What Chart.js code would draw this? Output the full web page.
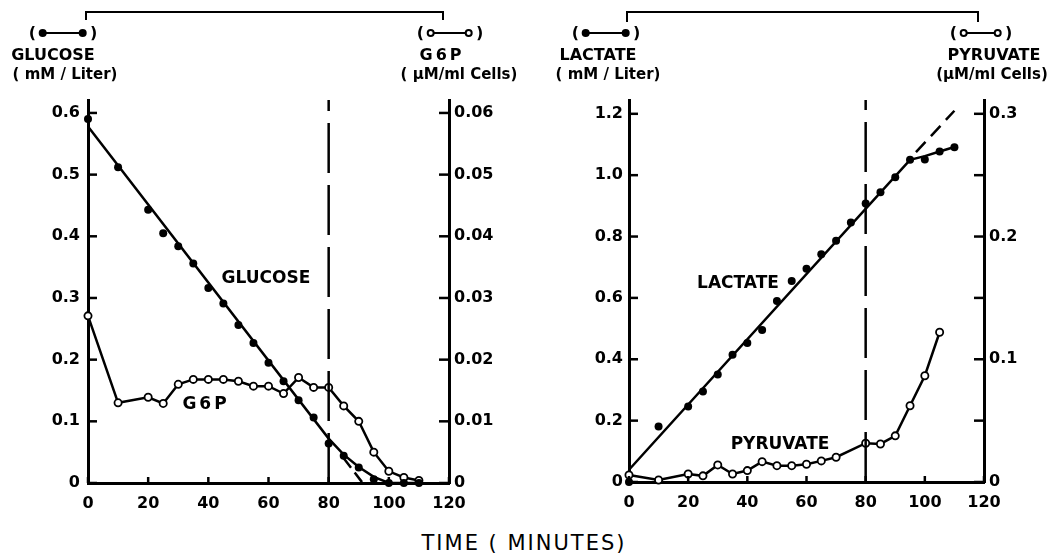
<!DOCTYPE html>
<html>
<head>
<meta charset="utf-8">
<script src="https://cdn.jsdelivr.net/npm/chart.js@4.4.0/dist/chart.umd.min.js"></script>
<style>
html,body{margin:0;padding:0;background:#fff;}
body{width:1059px;height:559px;position:relative;overflow:hidden;font-family:'DejaVu Sans',sans-serif;color:#000;}
.box{position:absolute;top:0;height:520px;}
.lbl{position:absolute;font-weight:bold;white-space:nowrap;transform:translate(-50%,-50%);line-height:1;}
.bracket{position:absolute;border:2px solid #000;border-bottom:none;box-sizing:border-box;}
.key{position:absolute;transform:translate(-50%,-50%);font-weight:bold;font-size:16px;white-space:nowrap;display:flex;align-items:center;line-height:1;}
.key .seg{position:relative;height:2px;background:#000;margin:0 7px;}
.key .dot{position:absolute;top:-3px;width:8px;height:8px;border-radius:50%;box-sizing:border-box;}
.key .f{background:#000;}
.key .o{background:#fff;border:2px solid #000;}
</style>
</head>
<body>
<div class="box" style="left:0;width:530px;"><canvas id="c1"></canvas></div>
<div class="box" style="left:530px;width:529px;"><canvas id="c2"></canvas></div>

<div class="bracket" style="left:85px;top:11px;width:359px;height:9px;"></div>
<div class="bracket" style="left:626px;top:11px;width:353px;height:11px;"></div>

<div class="key" style="left:63px;top:33px;">(<span class="seg" style="width:40px;"><span class="dot f" style="left:-4px;"></span><span class="dot f" style="right:-4px;"></span></span>)</div>
<div class="key" style="left:450px;top:33px;">(<span class="seg" style="width:38px;"><span class="dot o" style="left:-4px;"></span><span class="dot o" style="right:-4px;"></span></span>)</div>
<div class="key" style="left:606px;top:33px;">(<span class="seg" style="width:40px;"><span class="dot f" style="left:-4px;"></span><span class="dot f" style="right:-4px;"></span></span>)</div>
<div class="key" style="left:981px;top:33px;">(<span class="seg" style="width:34px;"><span class="dot o" style="left:-4px;"></span><span class="dot o" style="right:-4px;"></span></span>)</div>

<div class="lbl" style="left:53px;top:55px;font-size:16px;">GLUCOSE</div>
<div class="lbl" style="left:65px;top:74px;font-size:15px;">( mM / Liter)</div>
<div class="lbl" style="left:442px;top:55px;font-size:16px;letter-spacing:3px;">G6P</div>
<div class="lbl" style="left:459px;top:74px;font-size:15px;">( µM/ml Cells)</div>
<div class="lbl" style="left:598px;top:55px;font-size:16px;">LACTATE</div>
<div class="lbl" style="left:608px;top:74px;font-size:15px;">( mM / Liter)</div>
<div class="lbl" style="left:994px;top:55px;font-size:16px;">PYRUVATE</div>
<div class="lbl" style="left:992px;top:74px;font-size:15px;">(µM/ml Cells)</div>

<div class="lbl" style="left:266px;top:277px;font-size:17px;">GLUCOSE</div>
<div class="lbl" style="left:206px;top:403px;font-size:17px;letter-spacing:3px;">G6P</div>
<div class="lbl" style="left:738px;top:282px;font-size:17px;">LACTATE</div>
<div class="lbl" style="left:780px;top:443px;font-size:17px;">PYRUVATE</div>

<div class="lbl" style="left:524px;top:543px;font-size:21px;font-weight:normal;letter-spacing:2px;">TIME ( MINUTES)</div>

<script>
// ---------- data ----------
const glucoseTime = [0,10,20,25,30,35,40,45,50,55,60,65,70,75,80,85,90,95,100,105,110];
const glucoseVals = [0.59,0.512,0.443,0.405,0.384,0.356,0.316,0.291,0.256,0.227,0.195,0.165,0.134,0.106,0.064,0.044,0.025,0.006,0.0,0.0,0.0];
const glucoseFitTime = [0,80,85,90,95,100,110];
const glucoseFitVals = [0.578,0.072,0.046,0.026,0.010,0.0,0.0];
const glucoseExtTime = [85,91.3];
const glucoseExtVals = [0.040,0.0];

const g6pTime = [0,10,20,25,30,35,40,45,50,55,60,65,70,75,80,85,90,95,100,105,110];
const g6pVals = [0.0271,0.0130,0.0139,0.0129,0.0160,0.0168,0.0168,0.0168,0.0165,0.0157,0.0157,0.0145,0.0171,0.0155,0.0155,0.0125,0.0100,0.0050,0.0019,0.0009,0.0004];

const lactateTime = [0,10,20,25,30,35,40,45,50,55,60,65,70,75,80,85,90,95,100,105,110];
const lactateVals = [0.0,0.181,0.246,0.295,0.350,0.415,0.453,0.495,0.590,0.655,0.695,0.742,0.786,0.846,0.908,0.944,0.993,1.050,1.051,1.077,1.091];
const lactateFitTime = [0,95,100,105,110];
const lactateFitVals = [0.04,1.05,1.062,1.077,1.092];
const lactateExtTime = [97,110];
const lactateExtVals = [1.075,1.21];

const pyruvateTime = [0,10,20,25,30,35,40,45,50,55,60,65,70,80,85,90,95,100,105];
const pyruvateVals = [0.0057,0.0016,0.0065,0.005,0.0139,0.0065,0.0093,0.0166,0.0133,0.0133,0.0145,0.0172,0.0202,0.0316,0.031,0.0376,0.0621,0.0866,0.122];

const markerTime = 80;

const xTicks = [0,20,40,60,80,100,120];
const xTickLabels = ['0','20','40','60','80','100','120'];
const glucoseTicks = [0,0.1,0.2,0.3,0.4,0.5,0.6];
const glucoseTickLabels = ['0','0.1','0.2','0.3','0.4','0.5','0.6'];
const g6pTicks = [0,0.01,0.02,0.03,0.04,0.05,0.06];
const g6pTickLabels = ['0','0.01','0.02','0.03','0.04','0.05','0.06'];
const lactateTicks = [0,0.2,0.4,0.6,0.8,1.0,1.2];
const lactateTickLabels = ['0','0.2','0.4','0.6','0.8','1.0','1.2'];
const pyruvateTicks = [0,0.05,0.1,0.15,0.2,0.25,0.3];
const pyruvateTickLabels = ['0','','0.1','','0.2','','0.3'];

// ---------- helpers ----------
function pts(xs, ys){ return xs.map((x,i)=>({x:x, y:ys[i]})); }
Chart.defaults.font.family = "'DejaVu Sans', sans-serif";
Chart.defaults.color = '#000';

function makeTicks(spec){
  return {
    id:'inwardTicks',
    afterDraw(chart){
      const ctx = chart.ctx;
      ctx.save();
      ctx.strokeStyle = '#000';
      ctx.lineWidth = 2.5;
      Object.keys(spec).forEach(id=>{
        const sc = chart.scales[id];
        const len = spec[id];
        sc.ticks.forEach(t=>{
          const p = sc.getPixelForValue(t.value);
          ctx.beginPath();
          if (sc.isHorizontal()) { ctx.moveTo(p, sc.top); ctx.lineTo(p, sc.top - len); }
          else if (sc.position === 'left') { ctx.moveTo(sc.right, p); ctx.lineTo(sc.right + len, p); }
          else { ctx.moveTo(sc.left, p); ctx.lineTo(sc.left - len, p); }
          ctx.stroke();
        });
      });
      ctx.restore();
    }
  };
}

const tickFont = {size:16, weight:'bold'};
function axis(pos, min, max, vals, labels, size, pad){
  const o = {
    type:'linear', position:pos, min:min, max:max,
    afterBuildTicks: s=>{ s.ticks = vals.map(v=>({value:v})); },
    ticks:{ callback:(v,i)=>labels[i], autoSkip:false, maxRotation:0, padding:pad, font:tickFont, color:'#000' },
    grid:{ display:false, drawTicks:false, tickLength:0 },
    border:{ display:true, color:'#000', width:3 }
  };
  if (pos === 'bottom') o.afterFit = s=>{ s.height = size; };
  else o.afterFit = s=>{ s.width = size; };
  return o;
}

function filledPts(xs, ys, yAxis){
  return { data:pts(xs,ys), yAxisID:yAxis, showLine:false, pointRadius:4, pointBackgroundColor:'#000', pointBorderColor:'#000', pointBorderWidth:0, clip:false };
}
function openLine(xs, ys, yAxis){
  return { data:pts(xs,ys), yAxisID:yAxis, showLine:true, borderColor:'#000', borderWidth:2.5, pointRadius:3.6, pointBackgroundColor:'#fff', pointBorderColor:'#000', pointBorderWidth:1.8, clip:false };
}
function plainLine(xs, ys, yAxis, dash){
  return { data:pts(xs,ys), yAxisID:yAxis, showLine:true, borderColor:'#000', borderWidth:2.5, borderDash:dash||[], pointRadius:0, clip:false };
}

const common = {
  responsive:true, maintainAspectRatio:false, animation:false,
  plugins:{ legend:{display:false}, tooltip:{enabled:false} },
  layout:{ padding:{ top:100, left:0, right:0, bottom:0 } }
};

// ---------- left chart ----------
const gMax = 0.621;
new Chart(document.getElementById('c1'), {
  type:'scatter',
  data:{ datasets:[
    plainLine([markerTime,markerTime],[0,gMax],'y',[50,12]),
    plainLine(glucoseFitTime, glucoseFitVals, 'y'),
    plainLine(glucoseExtTime, glucoseExtVals, 'y', [12,6]),
    filledPts(glucoseTime, glucoseVals, 'y'),
    openLine(g6pTime, g6pVals, 'y2')
  ]},
  options: Object.assign({}, common, {
    scales:{
      x: axis('bottom', 0, 120, xTicks, xTickLabels, 37, 11),
      y: axis('left', 0, gMax, glucoseTicks, glucoseTickLabels, 88, 8),
      y2: axis('right', 0, gMax/10, g6pTicks, g6pTickLabels, 81, 5)
    }
  }),
  plugins:[ makeTicks({x:6, y:9, y2:10}) ]
});

// ---------- right chart ----------
const lMax = 1.245;
new Chart(document.getElementById('c2'), {
  type:'scatter',
  data:{ datasets:[
    plainLine([markerTime,markerTime],[0,lMax],'y',[50,12]),
    plainLine(lactateFitTime, lactateFitVals, 'y'),
    plainLine(lactateExtTime, lactateExtVals, 'y', [14,8]),
    filledPts(lactateTime, lactateVals, 'y'),
    openLine(pyruvateTime, pyruvateVals, 'y2')
  ]},
  options: Object.assign({}, common, {
    scales:{
      x: axis('bottom', 0, 120, xTicks, xTickLabels, 38, 11),
      y: axis('left', 0, lMax, lactateTicks, lactateTickLabels, 99, 6),
      y2: axis('right', 0, lMax/4, pyruvateTicks, pyruvateTickLabels, 75, 5)
    }
  }),
  plugins:[ makeTicks({x:6, y:9, y2:10}) ]
});
</script>
</body>
</html>
